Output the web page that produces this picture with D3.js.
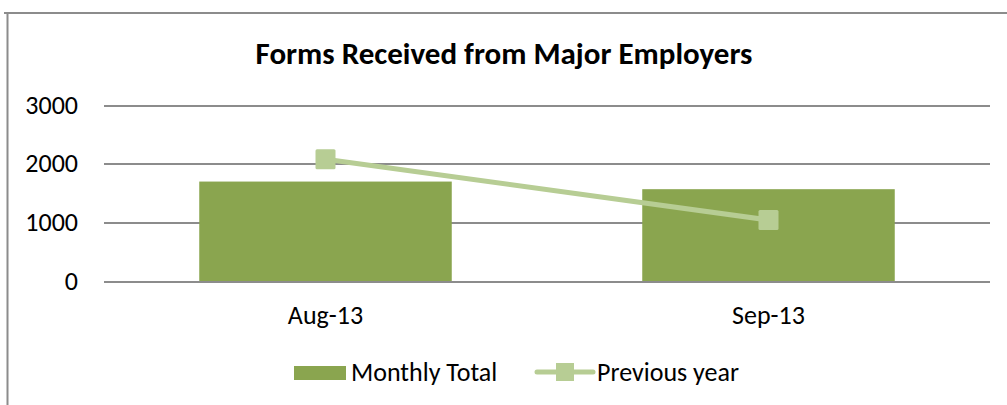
<!DOCTYPE html>
<html lang="en">
<head>
<meta charset="utf-8">
<title>Forms Received from Major Employers</title>
<script type="text/javascript" src="https://cdn.jsdelivr.net/npm/d3@7"></script>
<style type="text/css">
body { margin: 0; background: #fff; }
text { font-family: Carlito, "Open Sans", "Liberation Sans", sans-serif; fill: #000; }
.axis path { display: none; }
.axis line { stroke: #8c8c8c; stroke-width: 2px; shape-rendering: crispEdges; }
.axis text { font-size: 26px; fill: #000; }
</style>
</head>
<body>
<script type="text/javascript">
var months = ["Aug-13", "Sep-13"];
var monthlyTotal = [1695, 1565];
var previousYear = [2075, 1040];
var yTicks = [0, 1000, 2000, 3000];
var seriesNames = ["Monthly Total", "Previous year"];

var w = 1007, h = 405;
var plotLeft = 104, plotRight = 990, plotTop = 105, plotBottom = 281;
var barColor = "#8aa54f", lineColor = "#b7cd94";

var svg = d3.select("body").append("svg")
    .attr("width", w)
    .attr("height", h);

// chart area border (only top and left edges show)
svg.append("line").attr("x1", 4).attr("x2", w).attr("y1", 13).attr("y2", 13)
   .attr("stroke", "#8c8c8c").attr("stroke-width", 2);
svg.append("line").attr("x1", 7.5).attr("x2", 7.5).attr("y1", 12).attr("y2", h)
   .attr("stroke", "#8c8c8c").attr("stroke-width", 2);

svg.append("text")
   .attr("x", 504).attr("y", 64)
   .attr("text-anchor", "middle")
   .attr("font-size", "31px")
   .attr("font-weight", "bold")
   .text("Forms Received from Major Employers");

var xScale = d3.scaleBand().domain(months).range([plotLeft, plotRight]).paddingInner(0.43).paddingOuter(0.215);
var yScale = d3.scaleLinear().domain([0, 3000]).range([plotBottom, plotTop]);

var yAxis = d3.axisLeft(yScale).tickValues(yTicks).tickFormat(d3.format("d"))
   .tickSize(-(plotRight - plotLeft)).tickPadding(26);
svg.append("g").attr("class", "axis")
   .attr("transform", "translate(" + plotLeft + ",0)")
   .call(yAxis);

svg.selectAll(".bar")
   .data(monthlyTotal)
   .enter()
   .append("rect")
   .attr("class", "bar")
   .attr("x", function(d, i) { return xScale(months[i]); })
   .attr("y", function(d) { return yScale(d); })
   .attr("width", xScale.bandwidth())
   .attr("height", function(d) { return yScale(0) - yScale(d); })
   .attr("fill", barColor);

// x labels
svg.selectAll(".xlab")
   .data(months)
   .enter()
   .append("text")
   .attr("class", "xlab")
   .attr("x", function(d) { return xScale(d) + xScale.bandwidth() / 2; })
   .attr("y", 324)
   .attr("text-anchor", "middle")
   .attr("font-size", "26px")
   .text(function(d) { return d; });

var line = d3.line()
   .x(function(d, i) { return xScale(months[i]) + xScale.bandwidth() / 2; })
   .y(function(d) { return yScale(d); });

svg.append("path")
   .datum(previousYear)
   .attr("d", line)
   .attr("fill", "none")
   .attr("stroke", lineColor)
   .attr("stroke-width", 5);

var ms = 20;
svg.selectAll(".marker")
   .data(previousYear)
   .enter()
   .append("rect")
   .attr("class", "marker")
   .attr("x", function(d, i) { return xScale(months[i]) + xScale.bandwidth() / 2 - ms / 2; })
   .attr("y", function(d) { return yScale(d) - ms / 2; })
   .attr("width", ms).attr("height", ms)
   .attr("rx", 1.5)
   .attr("fill", lineColor);

// legend
var lg = svg.append("g");
lg.append("rect").attr("x", 294).attr("y", 366).attr("width", 52).attr("height", 14).attr("fill", barColor);
lg.append("text").attr("x", 351).attr("y", 381).attr("font-size", "26px").text(seriesNames[0]);
lg.append("line").attr("x1", 537).attr("x2", 593).attr("y1", 372).attr("y2", 372)
  .attr("stroke", lineColor).attr("stroke-width", 5).attr("stroke-linecap", "round");
lg.append("rect").attr("x", 556).attr("y", 363).attr("width", 18).attr("height", 18).attr("fill", lineColor);
lg.append("text").attr("x", 597).attr("y", 381).attr("font-size", "26px").text(seriesNames[1]);
</script>
</body>
</html>
